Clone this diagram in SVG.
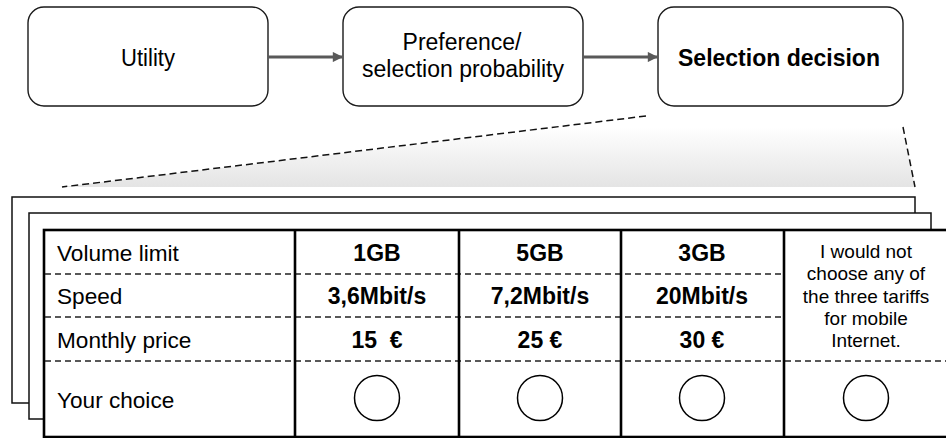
<svg xmlns="http://www.w3.org/2000/svg" width="946" height="438" viewBox="0 0 946 438">
<defs>
<linearGradient id="shade" x1="0" y1="0" x2="0" y2="1">
<stop offset="0" stop-color="#ffffff"/>
<stop offset="1" stop-color="#e4e4e4"/>
</linearGradient>
<marker id="arr" viewBox="0 0 10 10" refX="10" refY="5" markerWidth="4" markerHeight="3.4" markerUnits="strokeWidth" orient="auto">
<path d="M0,0 L10,5 L0,10 z" fill="#595959"/>
</marker>
<style>
.box{fill:#fff;stroke:#1a1a1a;stroke-width:1.4}
.t{font-family:"Liberation Sans",Arial,sans-serif;fill:#000}
.bt{font-size:23px;text-anchor:middle}
.b{font-weight:bold}
.lbl{font-size:22.6px}
.val{font-size:23px;font-weight:bold;text-anchor:middle}
.nc{font-size:19px;text-anchor:middle}
.conn{stroke:#595959;stroke-width:3;fill:none}
.dash{stroke:#222;stroke-width:1.3;stroke-dasharray:6,4;fill:none}
.zoom{stroke:#111;stroke-width:1.5;stroke-dasharray:7,4;fill:none}
.card{fill:#fff;stroke:#111;stroke-width:1.5}
.tbl{fill:#fff;stroke:#000;stroke-width:2.6}
.col{stroke:#000;stroke-width:2.6}
.rad{fill:#fff;stroke:#000;stroke-width:1.5}
</style>
</defs>

<g id="n1">
<rect class="box" x="28" y="7" width="240" height="99" rx="16"/>
<text class="t bt" x="148" y="66" textLength="54" lengthAdjust="spacingAndGlyphs">Utility</text>
</g>
<g id="n2">
<rect class="box" x="343" y="7" width="240" height="99" rx="16"/>
<text class="t bt" x="462" y="50">Preference/</text>
<text class="t bt" x="463" y="77">selection probability</text>
</g>
<g id="n3">
<rect class="box" x="658" y="7" width="245" height="99" rx="16"/>
<text class="t bt b" x="779" y="65.5">Selection decision</text>
</g>

<g id="connectors">
<line class="conn" x1="268" y1="57" x2="343" y2="57" marker-end="url(#arr)"/>
<line class="conn" x1="583" y1="57" x2="658" y2="57" marker-end="url(#arr)"/>
</g>

<g id="zoom">
<polygon points="62,187 565,127 903,127 915,187" fill="url(#shade)"/>
<line class="zoom" x1="646" y1="116" x2="62" y2="187"/>
<line class="zoom" x1="903" y1="127" x2="915" y2="187"/>
</g>

<g id="cards">
<rect class="card" x="12" y="197" width="903" height="206"/>
<rect class="card" x="29" y="213" width="902" height="206"/>
</g>

<g id="table">
<rect class="tbl" x="44" y="230" width="910" height="207"/>
<line class="dash" x1="45" y1="274" x2="784" y2="274"/>
<line class="dash" x1="45" y1="317" x2="784" y2="317"/>
<line class="dash" x1="45" y1="361" x2="946" y2="361"/>
<line class="col" x1="295" y1="230" x2="295" y2="437"/>
<line class="col" x1="459" y1="230" x2="459" y2="437"/>
<line class="col" x1="621" y1="230" x2="621" y2="437"/>
<line class="col" x1="784" y1="230" x2="784" y2="437"/>

<text class="t lbl" x="57" y="260.5">Volume limit</text>
<text class="t lbl" x="57" y="304">Speed</text>
<text class="t lbl" x="57" y="347.5">Monthly price</text>
<text class="t lbl" x="57" y="407.5">Your choice</text>

<text class="t val" x="377" y="260.5">1GB</text>
<text class="t val" x="377" y="304">3,6Mbit/s</text>
<text class="t val" x="377" y="347.5" xml:space="preserve">15  €</text>

<text class="t val" x="540" y="260.5">5GB</text>
<text class="t val" x="540" y="304">7,2Mbit/s</text>
<text class="t val" x="540" y="347.5">25 €</text>

<text class="t val" x="702" y="260.5">3GB</text>
<text class="t val" x="702" y="304">20Mbit/s</text>
<text class="t val" x="702" y="347.5">30 €</text>

<text class="t nc" x="866" y="258">I would not</text>
<text class="t nc" x="866" y="280">choose any of</text>
<text class="t nc" x="866" y="302.5">the three tariffs</text>
<text class="t nc" x="866" y="325">for mobile</text>
<text class="t nc" x="866" y="347">Internet.</text>

<circle class="rad" cx="377" cy="398" r="22.5"/>
<circle class="rad" cx="540" cy="398" r="22.5"/>
<circle class="rad" cx="702" cy="398" r="22.5"/>
<circle class="rad" cx="866" cy="398" r="22.5"/>
</g>
</svg>
